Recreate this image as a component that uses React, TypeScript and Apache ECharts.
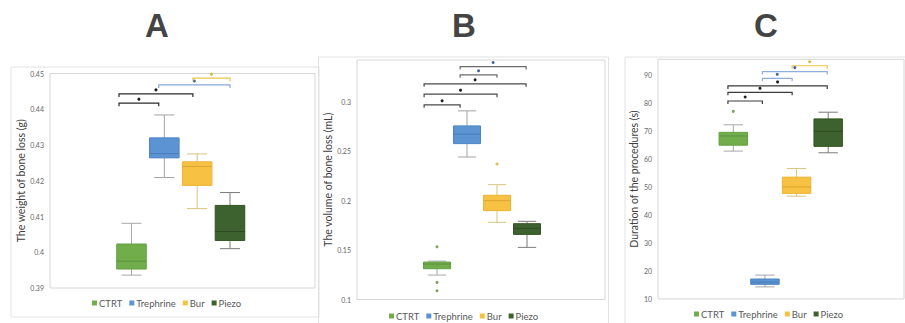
import React, { useEffect, useRef } from 'react';
import * as echarts from 'echarts';

const groups = ['CTRT', 'Trephrine', 'Bur', 'Piezo'];
const panelLetters = ['A', 'B', 'C'];
const yAxisTitles = ['The weight of bone loss (g)', 'The volume of bone loss (mL)', 'Duration of the procedures (s)'];

// [min, Q1, median, Q3, max] per group
const weightBoxes = [
  [0.3936, 0.3953, 0.3975, 0.4023, 0.4081],
  [0.4209, 0.4264, 0.4276, 0.432, 0.4384],
  [0.4122, 0.4187, 0.424, 0.4253, 0.4275],
  [0.401, 0.4033, 0.4058, 0.4131, 0.4167],
];
const volumeBoxes = [
  [0.1247, 0.1311, 0.1358, 0.1378, 0.1388],
  [0.244, 0.2575, 0.267, 0.2754, 0.2906],
  [0.178, 0.1898, 0.1999, 0.2053, 0.216],
  [0.1527, 0.1658, 0.172, 0.1766, 0.179],
];
const durationBoxes = [
  [62.8, 64.9, 68.2, 69.5, 72.2],
  [14.3, 15.2, 16.0, 17.1, 18.5],
  [46.7, 47.7, 50.0, 53.5, 56.6],
  [62.2, 64.5, 69.9, 74.3, 76.7],
];

// outliers: [group index, value]
const weightOutliers: number[][] = [];
const volumeOutliers = [[0, 0.1533], [0, 0.1173], [0, 0.1089], [2, 0.2369]];
const durationOutliers = [[0, 77.0]];

// significance brackets: [from position, to position, level]
const weightBrackets = [[0.62, 1.83, 0.4417], [0.62, 2.87, 0.4443], [1.83, 4.0, 0.4468], [2.87, 4.0, 0.4487]];
const weightBracketKinds = ['CTRT', 'CTRT', 'Trephrine', 'Bur'];
const volumeBrackets = [[1.77, 3.97, 0.3354], [1.77, 3.0, 0.327], [0.57, 3.97, 0.3179], [0.57, 3.0, 0.3075], [0.57, 1.77, 0.2967]];
const volumeBracketKinds = ['Trephrine', 'Trephrine', 'CTRT', 'CTRT', 'CTRT'];
const durationBrackets = [[2.86, 3.97, 93.3], [1.92, 3.97, 91.2], [1.92, 2.86, 88.8], [0.83, 3.97, 86.1], [0.83, 2.86, 83.8], [0.83, 1.92, 80.7]];
const durationBracketKinds = ['Bur', 'Trephrine', 'Trephrine', 'CTRT', 'CTRT', 'CTRT'];

const yMins = [0.39, 0.1, 10];
const yMaxs = [0.45, 0.342, 95.6];
const yIntervals = [0.01, 0.05, 10];

const fills = ['#72ad4c', '#5b93d3', '#f7c243', '#3d6230'];
const borders = ['#64a040', '#4d84c4', '#e9b431', '#33541f'];
const medians = ['#5c9240', '#4a7cba', '#d9a630', '#2d4a20'];
const whiskers = ['#a8a8a8', '#a3a3a3', '#d8c37f', '#7a7a7a'];
const outlierColors = ['#5f8a42', '#4a7cba', '#d8aa2c', '#33541f'];

const bracketStyles = [
  { CTRT: { line: '#2b2b2b', dot: '#1f1f1f' }, Trephrine: { line: '#86a8d6', dot: '#3f66a3' }, Bur: { line: '#e9c34c', dot: '#e0b534' } },
  { CTRT: { line: '#4a4a4a', dot: '#1f1f1f' }, Trephrine: { line: '#6a6a6a', dot: '#3f66a3' }, Bur: { line: '#e9c34c', dot: '#e0b534' } },
  { CTRT: { line: '#3a3a3a', dot: '#1f1f1f' }, Trephrine: { line: '#8eaed9', dot: '#3f66a3' }, Bur: { line: '#e9c34c', dot: '#e0b534' } },
];

const grids = [
  { left: 50, top: 73.5, width: 265, height: 214.5 },
  { left: 357, top: 60, width: 248, height: 239.5 },
  { left: 658, top: 59.3, width: 246, height: 239.6 },
];
const xRanges = [[-1.482, 6.589], [-1.667, 6.6], [-1.381, 6.397]];
const nameGaps = [21, 18, 14];
const legendLefts = [92, 389, 694];
const legendTops = [298, 311, 309];
const letterX = [157, 464, 766];
const frames = [
  { x: 11, y: 67, width: 308, height: 250 },
  { x: 318.5, y: 57, width: 290, height: 275 },
  { x: 625, y: 57, width: 300, height: 275 },
];

export default function App() {
  const ref = useRef<HTMLDivElement>(null);
  useEffect(() => {
    if (!ref.current) return;
    const chart = echarts.init(ref.current, null, { renderer: 'svg' });
    const allBoxes = [weightBoxes, volumeBoxes, durationBoxes];
    const allOutliers = [weightOutliers, volumeOutliers, durationOutliers];
    const allBrackets = [weightBrackets, volumeBrackets, durationBrackets];
    const allKinds = [weightBracketKinds, volumeBracketKinds, durationBracketKinds];

    const series: any[] = [];
    for (let p = 0; p < 3; p++) {
      groups.forEach((g, gi) => {
        series.push({
          type: 'custom',
          name: g,
          xAxisIndex: p,
          yAxisIndex: p,
          silent: true,
          itemStyle: { color: fills[gi] },
          data: [[gi + 1, ...allBoxes[p][gi]]],
          encode: { x: 0, y: [1, 2, 3, 4, 5] },
          renderItem: (params: any, api: any) => {
            const x = api.value(0);
            const pMin = api.coord([x, api.value(1)]);
            const pQ1 = api.coord([x, api.value(2)]);
            const pMed = api.coord([x, api.value(3)]);
            const pQ3 = api.coord([x, api.value(4)]);
            const pMax = api.coord([x, api.value(5)]);
            const w = api.size([0.9, 0])[0];
            const cap = w * 0.34;
            const cx = pMed[0];
            const ws = { stroke: whiskers[gi], lineWidth: 1 };
            return {
              type: 'group',
              children: [
                { type: 'line', shape: { x1: cx, y1: pMax[1], x2: cx, y2: pQ3[1] }, style: ws },
                { type: 'line', shape: { x1: cx, y1: pQ1[1], x2: cx, y2: pMin[1] }, style: ws },
                { type: 'line', shape: { x1: cx - cap, y1: pMax[1], x2: cx + cap, y2: pMax[1] }, style: ws },
                { type: 'line', shape: { x1: cx - cap, y1: pMin[1], x2: cx + cap, y2: pMin[1] }, style: ws },
                {
                  type: 'rect',
                  shape: { x: cx - w / 2, y: pQ3[1], width: w, height: pQ1[1] - pQ3[1] },
                  style: { fill: fills[gi], stroke: borders[gi], lineWidth: 1 },
                },
                { type: 'line', shape: { x1: cx - w / 2, y1: pMed[1], x2: cx + w / 2, y2: pMed[1] }, style: { stroke: medians[gi], lineWidth: 1 } },
              ],
            };
          },
        });
      });
      // outliers
      if (allOutliers[p].length) {
        series.push({
          type: 'scatter',
          xAxisIndex: p,
          yAxisIndex: p,
          silent: true,
          symbolSize: 3,
          data: allOutliers[p].map((o) => ({ value: [o[0] + 1, o[1]], itemStyle: { color: outlierColors[o[0]] } })),
        });
      }
      // brackets
      const kinds = allKinds[p];
      const styles: any = bracketStyles[p];
      series.push({
        type: 'custom',
        xAxisIndex: p,
        yAxisIndex: p,
        silent: true,
        data: allBrackets[p],
        encode: { x: [0, 1], y: 2 },
        renderItem: (params: any, api: any) => {
          const a = api.coord([api.value(0), api.value(2)]);
          const b = api.coord([api.value(1), api.value(2)]);
          const st = styles[kinds[params.dataIndex]];
          return {
            type: 'group',
            children: [
              {
                type: 'polyline',
                shape: { points: [[a[0], a[1] + 3], [a[0], a[1]], [b[0], b[1]], [b[0], b[1] + 3]] },
                style: { stroke: st.line, lineWidth: 1.2, fill: 'none' },
              },
              { type: 'circle', shape: { cx: (a[0] + b[0]) / 2, cy: a[1] - 4, r: 1.5 }, style: { fill: st.dot } },
            ],
          };
        },
      });
    }

    const option: any = {
      animation: false,
      backgroundColor: '#ffffff',
      grid: grids.map((g) => ({ ...g, show: true, borderColor: '#d6d6d6', borderWidth: 1, backgroundColor: 'transparent' })),
      xAxis: grids.map((g, i) => ({ type: 'value', gridIndex: i, min: xRanges[i][0], max: xRanges[i][1], show: false })),
      yAxis: grids.map((g, i) => ({
        type: 'value',
        gridIndex: i,
        min: yMins[i],
        max: yMaxs[i],
        interval: yIntervals[i],
        name: yAxisTitles[i],
        nameLocation: 'middle',
        nameGap: nameGaps[i],
        nameTextStyle: { fontFamily: 'Lato', fontSize: 10.5, color: '#404040' },
        axisLine: { show: false },
        axisTick: { show: false },
        splitLine: { show: false },
        axisLabel: { fontFamily: 'Lato', fontSize: 7, color: '#666666', margin: 6, showMaxLabel: i === 0 },
      })),
      legend: grids.map((g, i) => ({
        left: legendLefts[i],
        top: legendTops[i],
        padding: 0,
        icon: 'rect',
        itemWidth: 5,
        itemHeight: 5,
        itemGap: 7,
        selectedMode: false,
        textStyle: { fontFamily: 'Lato', fontSize: 9.5, color: '#595959', padding: [0, 0, 0, -3] },
        data: groups.map((name, gi) => ({ name, itemStyle: { color: fills[gi] } })),
      })),
      graphic: [
        ...frames.map((f) => ({
          type: 'rect',
          z: -10,
          shape: f,
          style: { fill: 'none', stroke: '#e2e2e2', lineWidth: 1 },
        })),
        ...panelLetters.map((t, i) => ({
          type: 'text',
          x: letterX[i],
          y: 25,
          style: { text: t, fontFamily: 'Liberation Sans', fontWeight: 'bold', fontSize: 33, fill: '#444444', align: 'center', verticalAlign: 'middle' },
        })),
      ],
      series,
    };
    chart.setOption(option);
    return () => chart.dispose();
  }, []);
  return <div ref={ref} style={{ position: 'fixed', left: 0, top: 0, width: 905, height: 323, background: '#fff' }} />;
}
